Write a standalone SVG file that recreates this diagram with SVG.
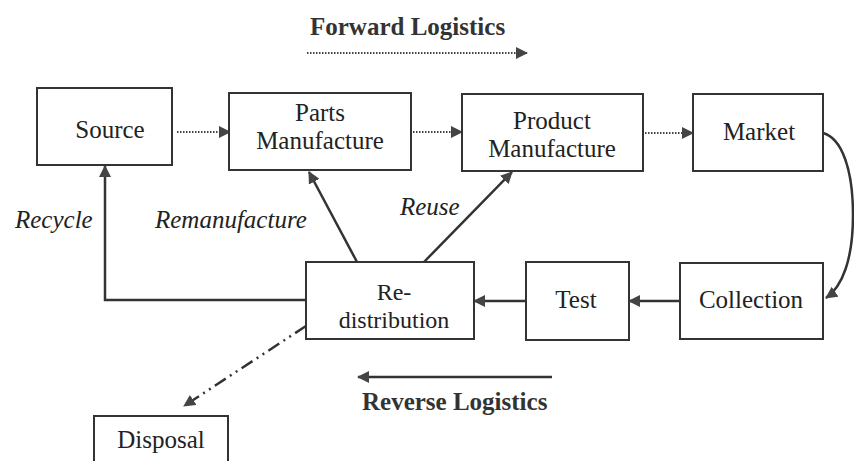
<svg xmlns="http://www.w3.org/2000/svg" width="854" height="461" viewBox="0 0 854 461">
<defs>
<style>
.box{fill:#fff;stroke:#333;stroke-width:2}
.t{font-family:"Liberation Serif","Times New Roman",serif;font-size:25px;fill:#222;text-anchor:middle}
.t2{font-family:"Liberation Serif","Times New Roman",serif;font-size:24px;fill:#222;text-anchor:middle}
.it{font-family:"Liberation Serif","Times New Roman",serif;font-size:25px;font-style:italic;fill:#222}
.b{font-family:"Liberation Serif","Times New Roman",serif;font-size:25px;font-weight:bold;fill:#333}
.solid{fill:none;stroke:#333;stroke-width:2.5}
.dot{fill:none;stroke:#444;stroke-width:2;stroke-dasharray:1.5 1.5}
.dd{fill:none;stroke:#333;stroke-width:2.5;stroke-dasharray:13 5 2 5 2 5}
</style>
<marker id="ah" markerUnits="userSpaceOnUse" markerWidth="12" markerHeight="12" refX="11" refY="6" orient="auto">
<path d="M0,0 L12,6 L0,12 z" fill="#444"/>
</marker>
</defs>
<rect width="854" height="461" fill="#fff"/>
<g id="connectors">
<path class="dot" d="M307,53 L527,53" marker-end="url(#ah)"/>
<path class="dot" d="M177,132 L230,132" marker-end="url(#ah)"/>
<path class="dot" d="M413,132 L462,132" marker-end="url(#ah)"/>
<path class="dot" d="M645,133 L693,133" marker-end="url(#ah)"/>
<path class="solid" d="M823,133 C842,138 853,170 853,215 C853,260 842,287 826,298" marker-end="url(#ah)"/>
<path class="solid" d="M680,301 L629,301" marker-end="url(#ah)"/>
<path class="solid" d="M526,301 L474,301" marker-end="url(#ah)"/>
<path class="solid" d="M306,300 H105 V166" marker-end="url(#ah)"/>
<path class="solid" d="M357,262 L309,172" marker-end="url(#ah)"/>
<path class="solid" d="M424,262 L512,172" marker-end="url(#ah)"/>
<path class="dd" d="M306,326 L184,406" marker-end="url(#ah)"/>
<path class="solid" d="M552,377 L358,377" marker-end="url(#ah)"/>
</g>
<g id="source"><rect class="box" x="37" y="88" width="135" height="77"/><text class="t" x="110" y="138">Source</text></g>
<g id="parts"><rect class="box" x="229" y="93" width="182" height="77"/><text class="t" x="320" y="121">Parts</text><text class="t" x="320" y="149">Manufacture</text></g>
<g id="product"><rect class="box" x="462" y="94" width="181" height="77"/><text class="t" x="552" y="129">Product</text><text class="t" x="552" y="157">Manufacture</text></g>
<g id="market"><rect class="box" x="693" y="94" width="130" height="77"/><text class="t" x="759" y="140">Market</text></g>
<g id="redistribution"><rect class="box" x="306" y="262" width="168" height="77"/><text class="t2" x="394" y="300">Re-</text><text class="t2" x="394" y="328">distribution</text></g>
<g id="test"><rect class="box" x="526" y="262" width="103" height="78"/><text class="t" x="576" y="308">Test</text></g>
<g id="collection"><rect class="box" x="680" y="263" width="143" height="76"/><text class="t" x="751" y="308">Collection</text></g>
<g id="disposal"><rect class="box" x="94" y="416" width="134" height="60"/><text class="t" x="161" y="448">Disposal</text></g>
<g id="labels">
<text class="b" x="310" y="35">Forward Logistics</text>
<text class="b" x="362" y="410">Reverse Logistics</text>
<text class="it" x="15" y="228">Recycle</text>
<text class="it" x="155" y="228">Remanufacture</text>
<text class="it" x="400" y="215">Reuse</text>
</g>
</svg>
